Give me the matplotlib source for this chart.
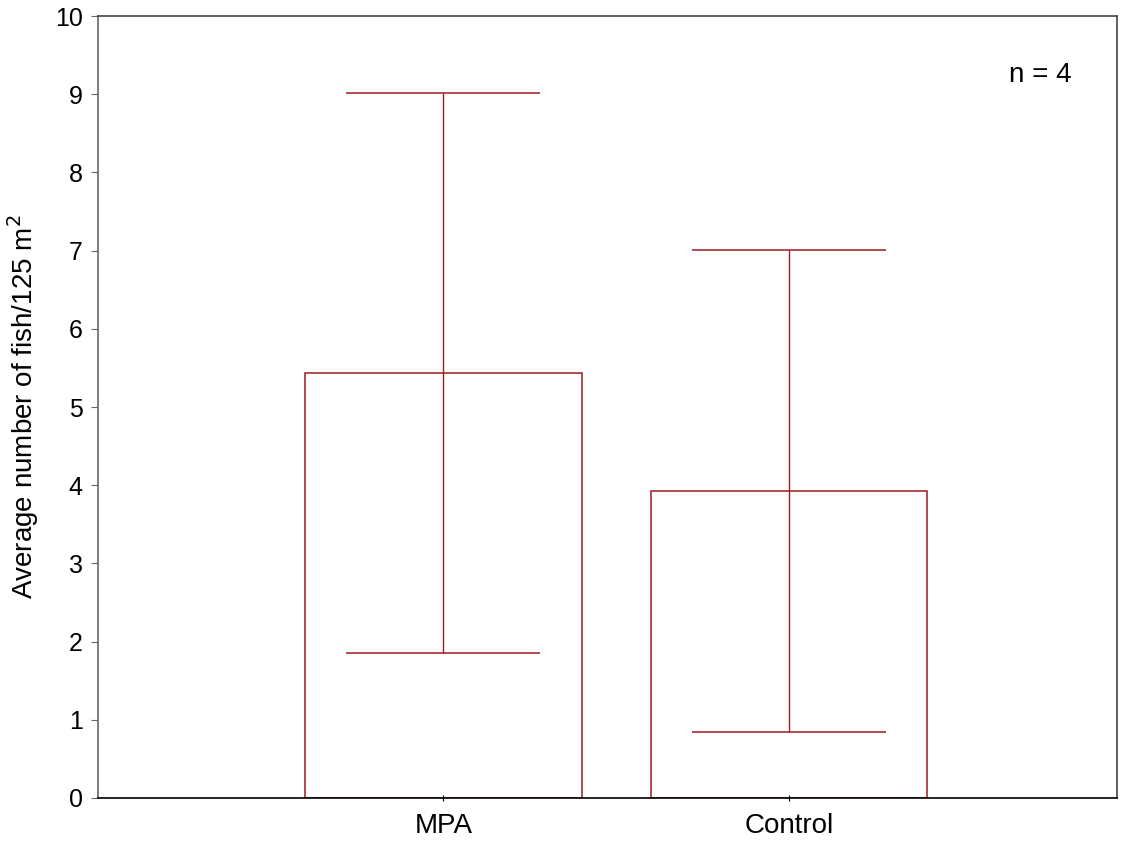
import matplotlib.pyplot as plt

plt.rcParams['font.family'] = ['Liberation Sans', 'DejaVu Sans']

# data
sites = ["MPA", "Control"]
means = [5.44, 3.93]
errors = [3.58, 3.08]

red = "#9b1b1f"

fig = plt.figure(figsize=(11.26, 8.43), dpi=100)
ax = fig.add_axes([0.087, 0.0534, 0.905, 0.9276])

x = list(range(len(sites)))
ax.bar(x, means, width=0.80, facecolor="white", edgecolor=red, linewidth=1.1)
ax.errorbar(x, means, yerr=errors, fmt="none", ecolor=red, elinewidth=1.0,
            capsize=69.5, capthick=1.1)

ax.set_xlim(-1.0, 1.95)
ax.set_ylim(0, 10)
ax.set_xticks(x)
ax.set_xticklabels(sites, fontsize=20)
ax.set_yticks(range(0, 11))
ax.tick_params(axis="y", labelsize=18, length=5, color="#666666", direction="out", pad=6)
ax.tick_params(axis="x", length=5, direction="inout", pad=8)
ax.tick_params(top=False, right=False)

ax.spines["left"].set_color("#666666")
ax.spines["top"].set_color("#444444")
ax.spines["right"].set_color("#444444")
ax.spines["bottom"].set_color("black")
for s in ax.spines.values():
    s.set_linewidth(1.2)

ax.set_ylabel("Average number of fish/125 m$^2$", fontsize=20, labelpad=10)
ax.text(1.636, 9.16, "n = 4", fontsize=20)

fig.savefig("out.png", dpi=100)
